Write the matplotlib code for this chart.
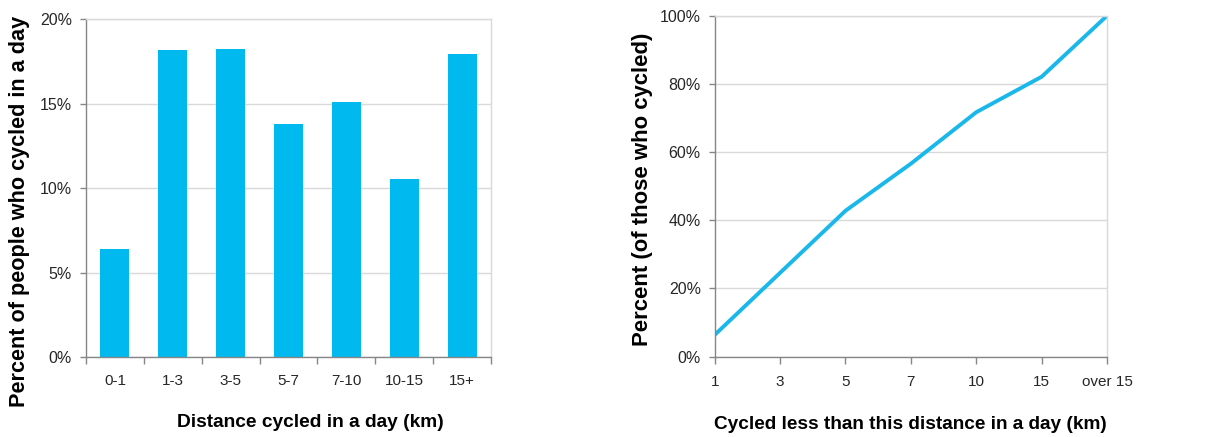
import matplotlib
matplotlib.use("Agg")
import matplotlib.pyplot as plt
from matplotlib.ticker import FuncFormatter, FixedLocator
import numpy as np

plt.rcParams['font.family'] = ['Liberation Sans', 'DejaVu Sans']

# Left chart data
bins = ["0-1", "1-3", "3-5", "5-7", "7-10", "10-15", "15+"]
share_pct = [6.40, 18.16, 18.24, 13.78, 15.08, 10.52, 17.93]

# Right chart data
dist_labels = ["1", "3", "5", "7", "10", "15", "over 15"]
cum_pct = [6.4, 24.6, 42.8, 56.6, 71.7, 82.1, 100.0]

BLUE = "#00B9EF"
LINE = "#1AB7EA"
GRID = "#D9D9D9"
SPINE = "#868686"
TXT = "#262626"

fig = plt.figure(figsize=(12.27, 4.37), dpi=100)

def style(ax):
    ax.set_axisbelow(True)
    ax.yaxis.grid(True, color=GRID, linewidth=1.0)
    for s in ["top", "right"]:
        ax.spines[s].set_color(GRID)
        ax.spines[s].set_linewidth(1.0)
    for s in ["left", "bottom"]:
        ax.spines[s].set_color(SPINE)
        ax.spines[s].set_linewidth(1.0)
    ax.tick_params(axis="both", colors=SPINE, labelcolor=TXT, labelsize=11.5,
                   length=4, width=1, direction="out")
    ax.tick_params(axis="y", pad=6)

# Left chart
ax1 = fig.add_axes([0.0701, 0.183, 0.3301, 0.7735])
x = np.arange(len(bins))
ax1.bar(x, share_pct, width=0.5, color=BLUE)
ax1.set_xlim(-0.5, len(bins) - 0.5)
ax1.set_ylim(0, 20)
ax1.set_yticks([0, 5, 10, 15, 20])
ax1.yaxis.set_major_formatter(FuncFormatter(lambda v, p: f"{v:.0f}%"))
ax1.set_xticks(x)
ax1.set_xticklabels(bins)
ax1.xaxis.set_minor_locator(FixedLocator(np.arange(-0.5, len(bins), 1.0)))
style(ax1)
ax1.tick_params(axis="x", which="major", length=0, pad=12, labelsize=11)
ax1.tick_params(axis="x", which="minor", length=5, width=1, color=SPINE)
ax1.set_xlabel("Distance cycled in a day (km)", fontsize=13.8, fontweight="bold",
               color="black", va="center")
ax1.xaxis.set_label_coords(0.553, -0.195)
ax1.set_ylabel("Percent of people who cycled in a day", fontsize=15.6,
               fontweight="bold", color="black", va="center")
ax1.yaxis.set_label_coords(-0.165, 0.43)

# Right chart
ax2 = fig.add_axes([0.5825, 0.1838, 0.3197, 0.7802])
xr = np.arange(len(dist_labels))
ax2.plot(xr, cum_pct, color=LINE, linewidth=2.8, solid_capstyle="butt")
ax2.set_xlim(0, len(dist_labels) - 1)
ax2.set_ylim(0, 100)
ax2.set_yticks([0, 20, 40, 60, 80, 100])
ax2.yaxis.set_major_formatter(FuncFormatter(lambda v, p: f"{v:.0f}%"))
ax2.set_xticks(xr)
ax2.set_xticklabels(dist_labels)
style(ax2)
ax2.tick_params(axis="x", length=5, pad=8, labelsize=11)
ax2.set_xlabel("Cycled less than this distance in a day (km)", fontsize=13.7,
               fontweight="bold", color="black", va="center")
ax2.xaxis.set_label_coords(0.5, -0.2)
ax2.set_ylabel("Percent (of those who cycled)", fontsize=15.9,
               fontweight="bold", color="black", va="center")
ax2.yaxis.set_label_coords(-0.183, 0.49)

fig.savefig("out.png", dpi=100)
